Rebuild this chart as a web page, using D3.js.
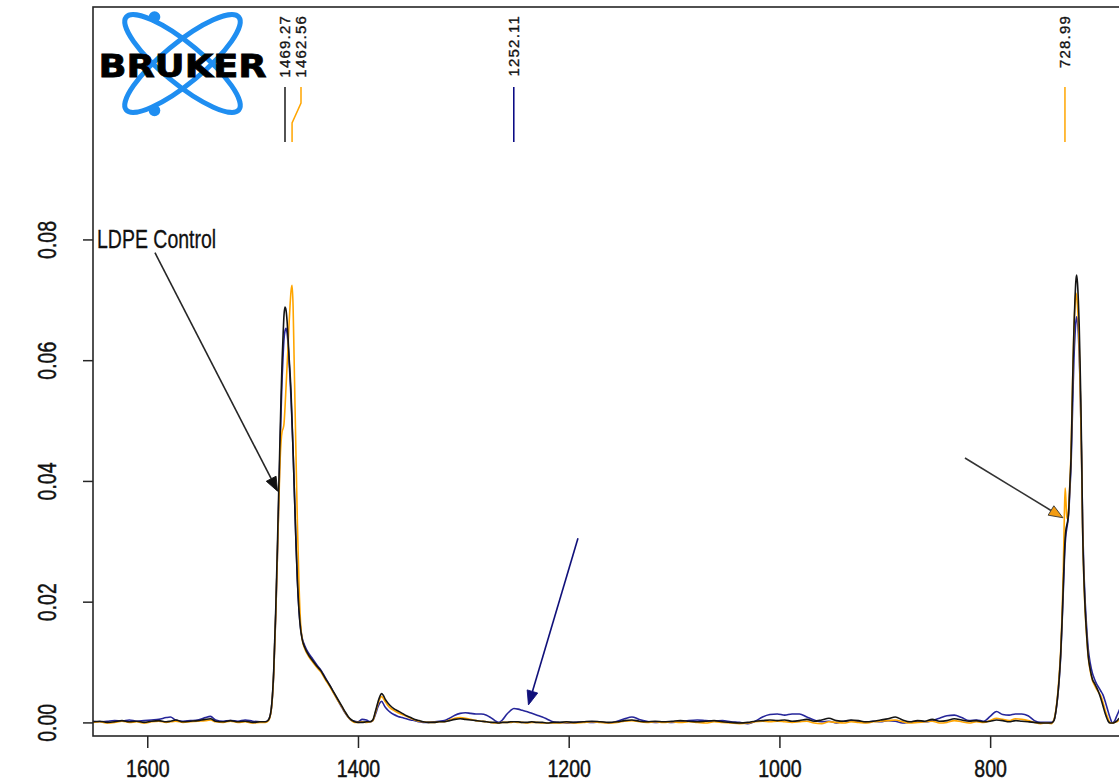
<!DOCTYPE html>
<html>
<head>
<meta charset="utf-8">
<script src="https://cdn.jsdelivr.net/npm/d3@7"></script>
<style>
  html, body { margin: 0; padding: 0; background: #fff; overflow: hidden; }
  svg { display: block; }
</style>
</head>
<body>
<svg id="chart" width="1119" height="783"></svg>
<script>
// Wavenumber grid (cm-1), shared by the three spectra
const wavenumbers = [
  // 1650-1488 baseline
  1652, 1645, 1638, 1631, 1624, 1617, 1610, 1603, 1596, 1589, 1582, 1578, 1573,
  1566, 1559, 1552, 1545, 1540, 1535, 1528, 1521, 1514, 1507, 1500, 1493, 1488,
  // CH2 scissoring doublet
  1485, 1482.5, 1480, 1478, 1476.5, 1475, 1474, 1473, 1472, 1471, 1470.2,
  1469.3, 1468.3, 1467.3, 1466.3, 1465.4, 1464.5, 1463.5, 1462.6, 1461.6, 1460.7,
  1459.7, 1458.8, 1457.5, 1456, 1454.5, 1453, 1450.5, 1447, 1443, 1439, 1435,
  1431, 1427, 1423, 1419, 1415, 1412, 1409, 1406, 1403,
  // CH3 bending
  1400, 1396, 1392, 1388.5, 1386, 1383.5, 1381, 1379, 1377.5, 1376, 1374, 1372,
  1369.5, 1366, 1362, 1358, 1354, 1350, 1346, 1342, 1338, 1333, 1328, 1323,
  // 1320-1215
  1318, 1313, 1308, 1303, 1298, 1293, 1288, 1283, 1278, 1274, 1270, 1266.5,
  1263, 1259, 1255, 1252, 1248, 1244, 1240, 1235, 1230, 1225, 1220, 1215,
  // 1210-747 baseline
  1210, 1202, 1194, 1186, 1178, 1170,
  1162, 1154, 1147, 1140, 1133, 1126,
  1118, 1110, 1102, 1094, 1086, 1078,
  1070, 1062, 1054, 1046, 1038, 1030,
  1023, 1016, 1009, 1002, 995, 988,
  981, 974, 967, 960, 953, 946,
  939, 932, 925, 918, 911, 904,
  897, 890, 883, 876, 869, 862,
  855, 848, 841, 834, 827, 820,
  813, 806, 800, 794, 788, 782,
  776, 770, 764, 758, 752, 747,
  // CH2 rocking doublet
  742, 739.5, 737.5, 736, 734.5, 733,
  731.8, 730.6, 729.6, 728.8, 728, 727.2,
  726.3, 725.3, 724.3, 723.2, 722.2, 721.3,
  720.4, 719.5, 718.7, 717.9, 717.1, 716.3,
  715.5, 714.7, 713.9, 713.1, 712.2, 711.2,
  710, 708.5, 706.9, 705, 703, 701,
  699, 697, 695, 693, 690.5, 688,
  686, 684, 682, 680, 678, 675
];

// Absorbance, LDPE control (black)
const ldpeControl = [
  0.0001, 0.0002, 0.0000, 0.0001, 0.0003, 0.0001, 0.0002, 0.0000, 0.0002, 0.0003, 0.0001, 0.0002, 0.0004,
  0.0001, 0.0002, 0.0003, 0.0005, 0.0006, 0.0002, 0.0001, 0.0003, 0.0001, 0.0002, 0.0000, 0.0001, 0.0001,
  0.0004, 0.0020, 0.0085, 0.0190, 0.0290, 0.0400, 0.0470, 0.0540, 0.0600, 0.0645, 0.0675,
  0.0688, 0.0683, 0.0665, 0.0635, 0.0605, 0.0580, 0.0545, 0.0500, 0.0450, 0.0400,
  0.0345, 0.0295, 0.0235, 0.0186, 0.0155, 0.0138, 0.0124, 0.0112, 0.0102, 0.0093, 0.0085,
  0.0073, 0.0062, 0.0050, 0.0038, 0.0026, 0.0017, 0.0009, 0.0004, 0.0001,
  0.0000, 0.0000, 0.0001, 0.0001, 0.0004, 0.0018, 0.0034, 0.0044, 0.0048, 0.0045, 0.0038, 0.0033,
  0.0028, 0.0023, 0.0019, 0.0015, 0.0011, 0.0008, 0.0005, 0.0003, 0.0001, 0.0000, 0.0000, 0.0001,
  0.0001, 0.0003, 0.0005, 0.0006, 0.0005, 0.0004, 0.0003, 0.0002, 0.0001, 0.0000, 0.0000, -0.0001,
  0.0000, 0.0000, 0.0001, 0.0001, 0.0001, 0.0000, 0.0000, 0.0001, 0.0000, 0.0000, -0.0001, 0.0000,
  0.0000, 0.0001, 0.0000, 0.0001, 0.0002, 0.0001,
  0.0000, 0.0001, 0.0003, 0.0004, 0.0002, 0.0001,
  0.0002, 0.0001, 0.0002, 0.0003, 0.0002, 0.0001,
  0.0002, 0.0003, 0.0001, 0.0000, -0.0001, 0.0000,
  0.0002, 0.0003, 0.0004, 0.0003, 0.0004, 0.0002,
  0.0003, 0.0005, 0.0002, 0.0004, 0.0007, 0.0003,
  0.0002, 0.0004, 0.0003, 0.0001, 0.0002, 0.0004,
  0.0006, 0.0009, 0.0004, 0.0001, 0.0003, 0.0002,
  0.0005, 0.0002, 0.0003, 0.0006, 0.0004, 0.0002,
  0.0003, 0.0001, 0.0002, 0.0004, 0.0003, 0.0001,
  0.0003, 0.0002, 0.0001, 0.0000, -0.0001, -0.0001,
  -0.0001, 0.0003, 0.0020, 0.0042, 0.0072, 0.0115,
  0.0165, 0.0225, 0.0275, 0.0305, 0.0320, 0.0327,
  0.0335, 0.0355, 0.0395, 0.0440, 0.0520, 0.0595,
  0.0655, 0.0700, 0.0730, 0.0741, 0.0728, 0.0700,
  0.0660, 0.0600, 0.0530, 0.0440, 0.0320, 0.0250,
  0.0195, 0.0148, 0.0110, 0.0088, 0.0072, 0.0065,
  0.0058, 0.0050, 0.0040, 0.0028, 0.0013, 0.0002,
  -0.0001, -0.0001, 0.0000, 0.0002, 0.0006, 0.0010
];

// Absorbance, second film (orange)
const sampleOrange = [
  0.0000, 0.0001, -0.0001, 0.0000, 0.0002, 0.0000, 0.0001, -0.0001, 0.0001, 0.0002, 0.0000, 0.0001, 0.0002,
  0.0000, 0.0001, 0.0002, 0.0003, 0.0004, 0.0001, 0.0000, 0.0002, 0.0000, 0.0001, -0.0001, 0.0000, 0.0000,
  0.0003, 0.0018, 0.0080, 0.0180, 0.0275, 0.0370, 0.0430, 0.0465, 0.0482, 0.0487, 0.0495,
  0.0520, 0.0555, 0.0590, 0.0625, 0.0660, 0.0690, 0.0715, 0.0724, 0.0690, 0.0610,
  0.0520, 0.0440, 0.0330, 0.0230, 0.0165, 0.0138, 0.0122, 0.0110, 0.0100, 0.0091, 0.0083,
  0.0071, 0.0060, 0.0048, 0.0036, 0.0025, 0.0016, 0.0008, 0.0003, 0.0000,
  0.0000, 0.0001, 0.0000, 0.0001, 0.0003, 0.0016, 0.0031, 0.0040, 0.0043, 0.0040, 0.0034, 0.0029,
  0.0024, 0.0020, 0.0016, 0.0013, 0.0010, 0.0007, 0.0004, 0.0002, 0.0001, 0.0000, 0.0000, 0.0001,
  0.0001, 0.0004, 0.0007, 0.0008, 0.0007, 0.0005, 0.0003, 0.0002, 0.0001, 0.0000, -0.0001, -0.0001,
  0.0000, 0.0000, 0.0000, 0.0001, 0.0000, 0.0000, -0.0001, 0.0000, 0.0000, -0.0001, -0.0001, -0.0001,
  -0.0001, 0.0000, -0.0001, 0.0000, 0.0001, 0.0000,
  -0.0001, 0.0000, 0.0002, 0.0003, 0.0001, 0.0000,
  0.0001, 0.0000, 0.0001, 0.0000, 0.0001, 0.0000,
  -0.0001, 0.0001, 0.0000, -0.0001, -0.0002, -0.0001,
  0.0001, 0.0002, 0.0001, 0.0002, 0.0001, 0.0000,
  0.0001, 0.0002, -0.0001, -0.0002, 0.0001, 0.0000,
  -0.0001, 0.0001, 0.0000, -0.0001, 0.0001, 0.0002,
  0.0003, 0.0004, 0.0001, -0.0001, 0.0000, 0.0001,
  0.0002, -0.0001, 0.0000, 0.0003, 0.0001, -0.0001,
  0.0001, 0.0000, 0.0003, 0.0007, 0.0005, 0.0003,
  0.0006, 0.0005, 0.0003, 0.0000, -0.0002, -0.0001,
  -0.0002, 0.0004, 0.0022, 0.0045, 0.0078, 0.0120,
  0.0175, 0.0250, 0.0340, 0.0388, 0.0365, 0.0338,
  0.0340, 0.0358, 0.0398, 0.0450, 0.0530, 0.0600,
  0.0655, 0.0690, 0.0711, 0.0705, 0.0690, 0.0665,
  0.0625, 0.0570, 0.0500, 0.0420, 0.0315, 0.0245,
  0.0190, 0.0145, 0.0108, 0.0085, 0.0070, 0.0062,
  0.0055, 0.0050, 0.0044, 0.0034, 0.0018, 0.0006,
  -0.0001, -0.0001, 0.0000, 0.0001, 0.0003, 0.0004
];

// Absorbance, third film (blue)
const sampleBlue = [
  0.0002, 0.0001, 0.0002, 0.0003, 0.0002, 0.0004, 0.0002, 0.0003, 0.0004, 0.0005, 0.0008, 0.0009, 0.0004,
  0.0002, 0.0003, 0.0004, 0.0008, 0.0010, 0.0004, 0.0002, 0.0003, 0.0002, 0.0004, 0.0002, 0.0001, 0.0001,
  0.0004, 0.0019, 0.0080, 0.0180, 0.0275, 0.0380, 0.0450, 0.0515, 0.0570, 0.0610, 0.0635,
  0.0648, 0.0653, 0.0645, 0.0625, 0.0598, 0.0570, 0.0535, 0.0495, 0.0450, 0.0400,
  0.0345, 0.0295, 0.0235, 0.0186, 0.0157, 0.0140, 0.0127, 0.0115, 0.0105, 0.0095, 0.0086,
  0.0074, 0.0062, 0.0049, 0.0036, 0.0024, 0.0015, 0.0008, 0.0003, 0.0002,
  0.0001, 0.0005, 0.0004, 0.0001, 0.0003, 0.0013, 0.0026, 0.0033, 0.0035, 0.0031, 0.0025, 0.0021,
  0.0017, 0.0013, 0.0010, 0.0008, 0.0006, 0.0004, 0.0003, 0.0001, 0.0000, 0.0000, 0.0001, 0.0002,
  0.0003, 0.0007, 0.0012, 0.0015, 0.0016, 0.0015, 0.0014, 0.0014, 0.0012, 0.0008, 0.0003, 0.0000,
  0.0004, 0.0013, 0.0020, 0.0023, 0.0022, 0.0020, 0.0018, 0.0015, 0.0012, 0.0009, 0.0005, 0.0001,
  0.0000, -0.0001, 0.0000, 0.0001, 0.0000, 0.0001,
  -0.0001, 0.0002, 0.0006, 0.0009, 0.0005, 0.0002,
  0.0000, 0.0001, 0.0000, 0.0001, 0.0003, 0.0004,
  0.0003, 0.0002, 0.0003, 0.0001, 0.0000, -0.0002,
  0.0002, 0.0009, 0.0013, 0.0014, 0.0012, 0.0014,
  0.0014, 0.0009, 0.0004, 0.0001, 0.0002, -0.0001,
  0.0002, 0.0003, 0.0001, 0.0000, 0.0002, 0.0001,
  0.0003, 0.0002, -0.0001, 0.0001, 0.0002, 0.0001,
  0.0003, 0.0007, 0.0011, 0.0012, 0.0008, 0.0003,
  0.0004, 0.0002, 0.0010, 0.0018, 0.0013, 0.0012,
  0.0014, 0.0014, 0.0011, 0.0003, 0.0000, 0.0000,
  0.0000, 0.0003, 0.0019, 0.0040, 0.0070, 0.0110,
  0.0160, 0.0215, 0.0265, 0.0295, 0.0312, 0.0322,
  0.0332, 0.0350, 0.0385, 0.0425, 0.0490, 0.0550,
  0.0605, 0.0640, 0.0662, 0.0672, 0.0665, 0.0645,
  0.0610, 0.0565, 0.0500, 0.0425, 0.0330, 0.0262,
  0.0208, 0.0160, 0.0122, 0.0098, 0.0082, 0.0072,
  0.0064, 0.0058, 0.0052, 0.0046, 0.0033, 0.0018,
  0.0007, -0.0001, 0.0002, 0.0010, 0.0018, 0.0030
];

// Axis ticks
const xTicks = [1600, 1400, 1200, 1000, 800];
const yTicks = [0.00, 0.02, 0.04, 0.06, 0.08];

// Picked peaks shown along the top
const peakPositions = [1469.27, 1462.56, 1252.11, 728.99];
const peakColors = ["#1a1a1a", "#ffa500", "#000080", "#ffa500"];

// Series styling
const seriesColors = { control: "#141414", orange: "#ffa500", blue: "#26269a" };

// Annotation arrows, in data units: [wavenumber, absorbance]
const annotationLabel = { text: "LDPE Control", at: [1647.7, 0.0786] };
const arrows = [
  { from: [1592.7, 0.0778], to: [1476.3, 0.0383], line: "#262626", head: "#111", outline: "#111" },
  { from: [823.9, 0.0438],  to: [730.9, 0.0339],  line: "#333333", head: "#f39c12", outline: "#333" },
  { from: [1191.2, 0.0305], to: [1238.2, 0.0029], line: "#10107a", head: "#10107a", outline: "#10107a" }
];

// ---------------------------------------------------------------------------
const svg = d3.select("#chart");
const plot = { left: 93, top: 7, right: 1125, bottom: 736 };

const x = d3.scaleLinear().domain([1651.5, 672]).range([plot.left, plot.right]);
const y = d3.scaleLinear().domain([-0.00225, 0.1185]).range([plot.bottom, plot.top]);

const axisFont = "'Liberation Sans', Arial, Helvetica, sans-serif";

svg.append("defs").append("clipPath").attr("id", "plotClip")
  .append("rect")
  .attr("x", plot.left).attr("y", plot.top)
  .attr("width", plot.right - plot.left).attr("height", plot.bottom - plot.top);

// Spectra
const line = d3.line()
  .x(d => x(d[0]))
  .y(d => y(d[1]))
  .curve(d3.curveMonotoneX);

const spectra = [
  { values: sampleBlue, color: seriesColors.blue },
  { values: sampleOrange, color: seriesColors.orange },
  { values: ldpeControl, color: seriesColors.control }
];

const gSpec = svg.append("g").attr("clip-path", "url(#plotClip)");
spectra.forEach(s => {
  const pts = wavenumbers.map((w, i) => [w, s.values[i]]);
  gSpec.append("path")
    .datum(pts)
    .attr("fill", "none")
    .attr("stroke", s.color)
    .attr("stroke-width", 1.6)
    .attr("stroke-linejoin", "round")
    .attr("d", line);
});

// Frame
svg.append("rect")
  .attr("x", plot.left).attr("y", plot.top)
  .attr("width", plot.right - plot.left).attr("height", plot.bottom - plot.top)
  .attr("fill", "none").attr("stroke", "#262626").attr("stroke-width", 1.6);

// X axis
const gx = svg.append("g")
  .attr("transform", `translate(0,${plot.bottom})`)
  .call(d3.axisBottom(x).tickValues(xTicks).tickSize(12).tickSizeOuter(0).tickFormat(d3.format("d")));
gx.select(".domain").remove();
gx.selectAll(".tick line").attr("stroke", "#262626").attr("stroke-width", 1.5);
gx.selectAll(".tick text")
  .attr("y", 41).attr("dy", null)
  .attr("fill", "#111")
  .attr("stroke", "#111").attr("stroke-width", 0.45)
  .attr("font-family", axisFont).attr("font-size", 23)
  .attr("transform", "scale(0.85,1)");

// Y axis
const gy = svg.append("g")
  .attr("transform", `translate(${plot.left},0)`)
  .call(d3.axisLeft(y).tickValues(yTicks).tickSize(10).tickSizeOuter(0).tickFormat(d3.format(".2f")));
gy.select(".domain").remove();
gy.selectAll(".tick line").attr("stroke", "#262626").attr("stroke-width", 1.5);
gy.selectAll(".tick text")
  .attr("x", 0).attr("y", 0).attr("dy", null)
  .attr("text-anchor", "middle")
  .attr("fill", "#111")
  .attr("stroke", "#111").attr("stroke-width", 0.45)
  .attr("font-family", axisFont).attr("font-size", 25)
  .attr("transform", "translate(-37,0) rotate(-90) scale(0.78,1)");

// Peak picks along the top: labels are pushed apart when they crowd
const gPeaks = svg.append("g");
let prevLabelX = -Infinity;
peakPositions.forEach((p, i) => {
  const px = x(p);
  const lx = Math.max(px, prevLabelX + 16);
  prevLabelX = lx;
  const path = lx === px
    ? `M${px},87V142`
    : `M${lx},87V103L${px},123V142`;
  gPeaks.append("path")
    .attr("d", path)
    .attr("fill", "none")
    .attr("stroke", peakColors[i])
    .attr("stroke-width", 1.5);
  gPeaks.append("text")
    .attr("transform", `translate(${lx + 5.4},15) rotate(-90)`)
    .attr("text-anchor", "end")
    .attr("font-family", axisFont)
    .attr("font-size", 15)
    .attr("letter-spacing", 1.2)
    .attr("fill", "#111")
    .attr("stroke", "#111").attr("stroke-width", 0.35)
    .text(d3.format(".2f")(p));
});

// Annotation label and arrows
svg.append("text")
  .attr("transform", `translate(${x(annotationLabel.at[0])},${y(annotationLabel.at[1])}) scale(0.78,1)`)
  .attr("font-family", axisFont)
  .attr("font-size", 25)
  .attr("fill", "#111")
  .attr("stroke", "#111").attr("stroke-width", 0.3)
  .text(annotationLabel.text);

const headLen = 14, headHalf = 5.5;
arrows.forEach(a => {
  const x0 = x(a.from[0]), y0 = y(a.from[1]);
  const x1 = x(a.to[0]), y1 = y(a.to[1]);
  const dx = x1 - x0, dy = y1 - y0, len = Math.hypot(dx, dy);
  const ux = dx / len, uy = dy / len;
  const bx = x1 - ux * headLen, by = y1 - uy * headLen;
  svg.append("line")
    .attr("x1", x0).attr("y1", y0).attr("x2", bx).attr("y2", by)
    .attr("stroke", a.line).attr("stroke-width", 1.6);
  svg.append("path")
    .attr("d", `M${x1},${y1}L${bx - uy * headHalf},${by + ux * headHalf}L${bx + uy * headHalf},${by - ux * headHalf}Z`)
    .attr("fill", a.head)
    .attr("stroke", a.outline)
    .attr("stroke-width", 0.9)
    .attr("stroke-linejoin", "round");
});

// Bruker logo
const logo = svg.append("g");
const lc = [182.5, 63.5];
[39.5, -39.5].forEach(angle => {
  logo.append("ellipse")
    .attr("cx", lc[0]).attr("cy", lc[1])
    .attr("rx", 73).attr("ry", 20)
    .attr("transform", `rotate(${angle},${lc[0]},${lc[1]})`)
    .attr("fill", "none")
    .attr("stroke", "#1f8ef1")
    .attr("stroke-width", 5);
});
[[154.5, 17], [154.5, 110.5]].forEach(c => {
  logo.append("circle").attr("cx", c[0]).attr("cy", c[1]).attr("r", 5.8).attr("fill", "#1f8ef1");
});
logo.append("text")
  .attr("transform", `translate(${lc[0]},77) scale(1.15,1)`)
  .attr("text-anchor", "middle")
  .attr("font-family", "'DejaVu Sans', Verdana, sans-serif")
  .attr("font-weight", "bold")
  .attr("font-size", 32)
  .attr("fill", "#000")
  .attr("stroke", "#000")
  .attr("stroke-width", 0.8)
  .text("BRUKER");
</script>
</body>
</html>
